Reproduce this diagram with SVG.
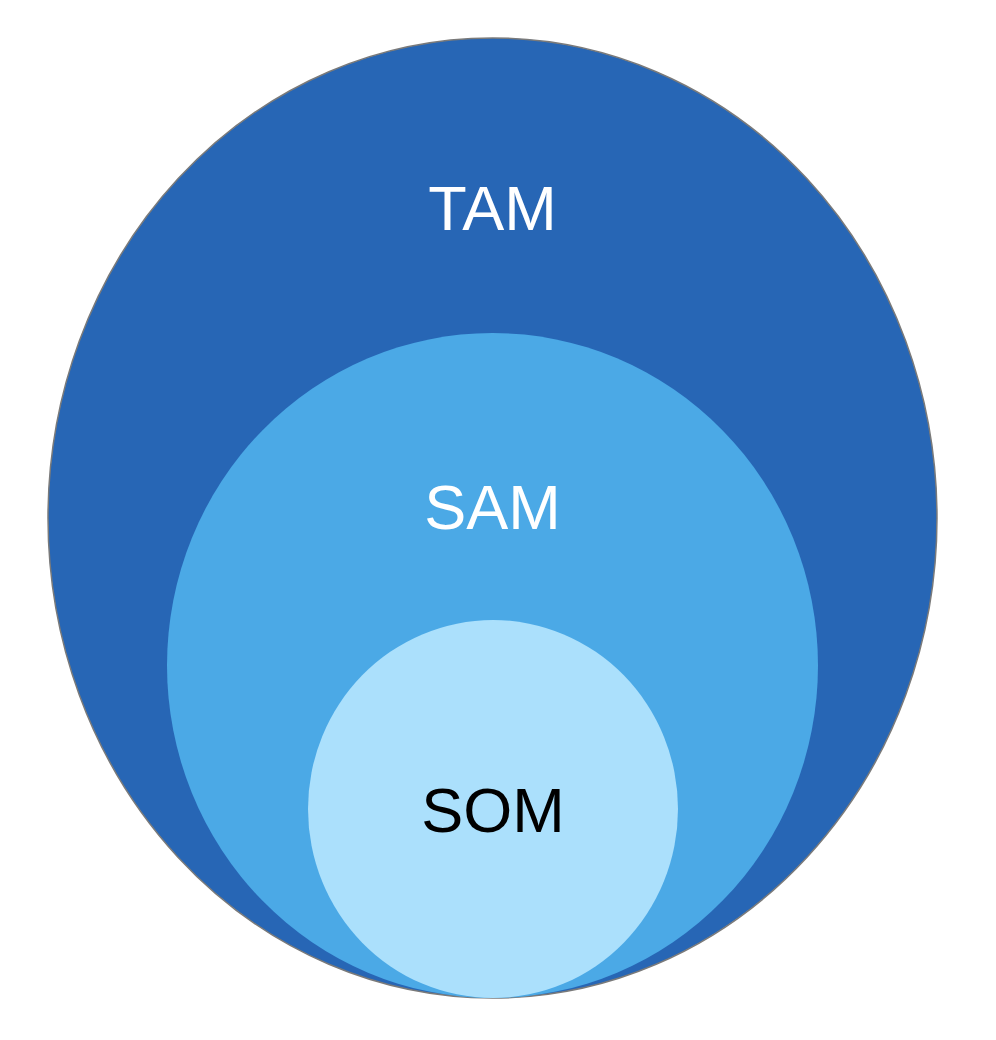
<svg xmlns="http://www.w3.org/2000/svg" width="996" height="1040" viewBox="0 0 996 1040">
<style>
.lbl{font-family:"Liberation Sans",Arial,sans-serif;font-size:63px;text-anchor:middle}
</style>
<rect width="996" height="1040" fill="#ffffff"/>
<g id="tam">
<ellipse cx="492.5" cy="518" rx="444.5" ry="480" fill="#2766B5" stroke="#7a7a7a" stroke-width="1.5"/>
<text class="lbl" x="492.5" y="230" fill="#ffffff">TAM</text>
</g>
<g id="sam">
<ellipse cx="492.5" cy="665.5" rx="325.5" ry="332.5" fill="#4BA9E6"/>
<text class="lbl" x="492.5" y="529" fill="#ffffff">SAM</text>
</g>
<g id="som">
<ellipse cx="493" cy="809" rx="185" ry="189" fill="#ABE0FC"/>
<text class="lbl" x="493" y="832" fill="#000000">SOM</text>
</g>
<g id="connectors"/>
</svg>
